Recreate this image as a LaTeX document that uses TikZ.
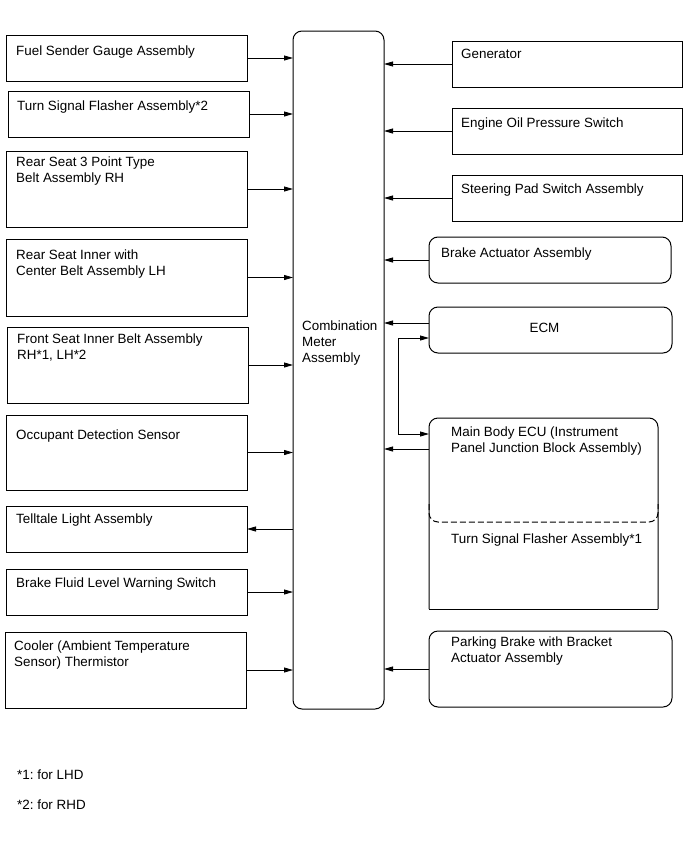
\documentclass[tikz,border=0pt]{standalone}
\usepackage{fontspec}
\setmainfont{Liberation Sans}
\usetikzlibrary{arrows.meta}
\frenchspacing

\begin{document}
\begin{tikzpicture}[x=1pt, y=-1pt, > = {Triangle[length=9pt,width=5pt]},
	font=\fontsize{13.4}{16}\selectfont,
	box/.style={draw, line width=1pt, inner sep=0pt, outer sep=0pt, anchor=north west, minimum width=#1},
	rbox/.style={box=#1, rounded corners=9pt},
	lbl/.style={anchor=north west, inner sep=0pt, align=left},
	conn/.style={->, line width=0.8pt}]
	\useasboundingbox (0,0) rectangle (690,854);
	
	% combination meter
	\node[rbox=91pt, minimum height=678pt, label={[lbl, xshift=9pt, yshift=-290pt]north west:Combination\\Meter\\Assembly}] (meter) at (293,31) {};
	
	% left column (inputs / outputs)
	\node[box=241pt, minimum height=46pt, label={[lbl, xshift=10pt, yshift=-11pt]north west:Fuel Sender Gauge Assembly}] (fuel) at (6,35) {};
	\node[box=241pt, minimum height=46pt, label={[lbl, xshift=9pt, yshift=-10pt]north west:Turn Signal Flasher Assembly*2}] (flasherR) at (8,91) {};
	\node[box=241pt, minimum height=76pt, label={[lbl, xshift=10pt, yshift=-6pt]north west:Rear Seat 3 Point Type\\Belt Assembly RH}] (rearRH) at (6,151) {};
	\node[box=241pt, minimum height=77pt, label={[lbl, xshift=10pt, yshift=-11pt]north west:Rear Seat Inner with\\Center Belt Assembly LH}] (rearLH) at (6,239) {};
	\node[box=241pt, minimum height=76pt, label={[lbl, xshift=10pt, yshift=-7pt]north west:Front Seat Inner Belt Assembly\\RH*1, LH*2}] (front) at (7,327) {};
	\node[box=241pt, minimum height=75pt, label={[lbl, xshift=10pt, yshift=-15pt]north west:Occupant Detection Sensor}] (occupant) at (6,415) {};
	\node[box=241pt, minimum height=46pt, label={[lbl, xshift=10pt, yshift=-8pt]north west:Telltale Light Assembly}] (telltale) at (6,506) {};
	\node[box=241pt, minimum height=46pt, label={[lbl, xshift=10pt, yshift=-9pt]north west:Brake Fluid Level Warning Switch}] (fluid) at (6,569) {};
	\node[box=241pt, minimum height=76pt, label={[lbl, xshift=9pt, yshift=-9pt]north west:Cooler (Ambient Temperature\\Sensor) Thermistor}] (cooler) at (5,632) {};
	
	% right column
	\node[box=230pt, minimum height=46pt, label={[lbl, xshift=9pt, yshift=-8pt]north west:Generator}] (gen) at (452,41) {};
	\node[box=230pt, minimum height=46pt, label={[lbl, xshift=9pt, yshift=-10pt]north west:Engine Oil Pressure Switch}] (oil) at (452,108) {};
	\node[box=230pt, minimum height=46pt, label={[lbl, xshift=9pt, yshift=-9pt]north west:Steering Pad Switch Assembly}] (steer) at (452,175) {};
	\node[rbox=242pt, minimum height=46pt, label={[lbl, xshift=12pt, yshift=-11pt]north west:Brake Actuator Assembly}] (brake) at (429,237) {};
	\node[rbox=243pt, minimum height=46pt, label={[lbl, anchor=north, xshift=-6pt, yshift=-16pt]north:ECM}] (ecm) at (429,307) {};
	\node[box=229pt, minimum height=191pt, draw=none,
		label={[lbl, xshift=22pt, yshift=-9pt]north west:Main Body ECU (Instrument\\Panel Junction Block Assembly)},
		label={[lbl, xshift=22pt, yshift=-116pt]north west:Turn Signal Flasher Assembly*1}] (ecu) at (429,418) {};
	\draw[line width=1pt, rounded corners=9pt] (ecu.south east) -- (ecu.north east) -- (ecu.north west) -- (ecu.south west);
	\draw[line width=1pt] (ecu.south west) -- (ecu.south east);
	\draw[line width=1pt, dash pattern=on 6pt off 3pt, rounded corners=9pt] ([yshift=-86pt]ecu.north west) -- ([yshift=-104pt]ecu.north west) -- ([yshift=-104pt]ecu.north east) -- ([yshift=-86pt]ecu.north east);
	\node[rbox=243pt, minimum height=76pt, label={[lbl, xshift=22pt, yshift=-6pt]north west:Parking Brake with Bracket\\Actuator Assembly}] (parking) at (429,631) {};
	
	% footnotes
	\node[anchor=west, inner sep=0pt] (fn1) at (17,775) {*1: for LHD};
	\node[anchor=west, inner sep=0pt] (fn2) at (17,805) {*2: for RHD};
	
	% left connectors
	\foreach \n in {fuel, flasherR, rearRH, rearLH, front, occupant, fluid, cooler}
		\draw[conn] (\n.east) -- (\n.east -| meter.west);
	\draw[conn] (telltale.east -| meter.west) -- (telltale.east);
	
	% right connectors
	\foreach \n in {gen, oil, steer, brake, parking}
		\draw[conn] (\n.west) -- (\n.west -| meter.east);
	\coordinate (ecmout) at ([yshift=7pt]ecm.west);
	\coordinate (ecmin) at ([yshift=-8pt]ecm.west);
	\coordinate (ecuin) at ([yshift=-16pt]ecu.north west);
	\coordinate (ecuout) at ([yshift=-31pt]ecu.north west);
	\coordinate (bus) at (398,0);
	\draw[conn] (ecmout) -- (ecmout -| meter.east);
	\draw[conn] (ecuout) -- (ecuout -| meter.east);
	\draw[conn, <->] (ecmin) -- (ecmin -| bus) -- (ecuin -| bus) -- (ecuin);
\end{tikzpicture}
\end{document}
